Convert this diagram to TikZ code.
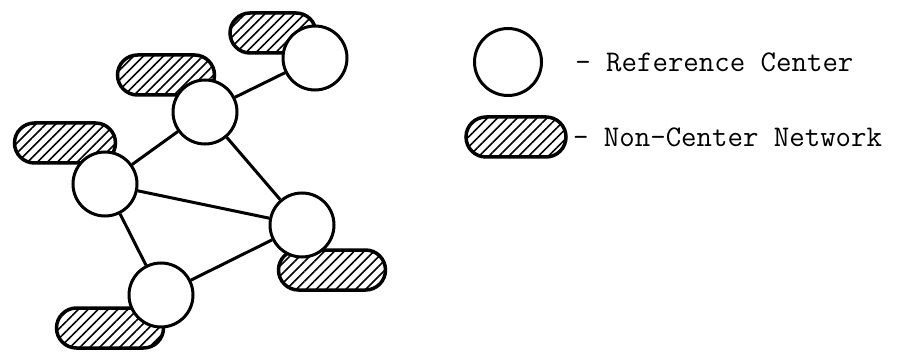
\documentclass[tikz,border=0pt]{standalone}
\usepackage{tikz}
\usetikzlibrary{positioning}
\usetikzlibrary{patterns.meta}
\tikzset{center node/.style={circle,fill=white,draw,line width=3pt,minimum size=64pt,inner sep=0pt},
	network node/.style={rectangle,rounded corners=20pt,draw,line width=3.5pt,minimum height=40pt,inner sep=0pt,
		pattern={Lines[angle=45,distance=7pt,line width=1.6pt]}},
	legend text/.style={font=\fontsize{30}{36}\selectfont\ttfamily,inner sep=0pt},}

\begin{document}
\begin{tikzpicture}[x=1pt, y=-1pt, semithick]
	\useasboundingbox (0,0) rectangle (904,358);

	% networks first, so the centers sit on top of them
	\node[network node, minimum width=86pt] (na) at (273,33) {};
	\node[network node, minimum width=97pt] (nb) at (166,75) {};
	\node[network node, minimum width=101pt] (nc) at (65,143) {};
	\node[network node, minimum width=107pt] (nd) at (332,270) {};
	\node[network node, minimum width=107pt] (ne) at (110,328) {};

	\node[center node] (a) at (315,58) {};
	\node[center node] (b) at (205,112) {};
	\node[center node] (c) at (105,184) {};
	\node[center node] (d) at (302,225) {};
	\node[center node] (e) at (161,295) {};

	\path[draw,line width=3pt]
	(a) edge (b)
	(b) edge (c)
	(b) edge (d)
	(c) edge (d)
	(c) edge (e)
	(e) edge (d);

	% legend
	\node[center node, minimum size=67pt] (lc) at (508,62) {};
	\node[network node, minimum width=100pt] (ln) at (516,137) {};
	\node[legend text] (lct) [right = 32pt of lc] {- Reference Center};
	\node[legend text] (lnt) [right = 5pt of ln] {- Non-Center Network};
\end{tikzpicture}
\end{document}
